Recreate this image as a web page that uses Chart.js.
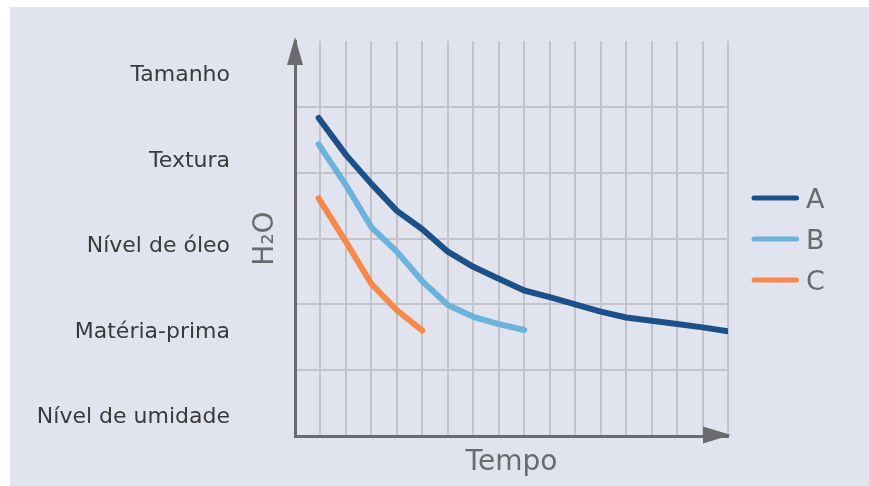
<!DOCTYPE html>
<html lang="pt">
<head>
<meta charset="utf-8">
<title>Tempo x H2O</title>
<script src="https://cdn.jsdelivr.net/npm/chart.js@4/dist/chart.umd.min.js"></script>
<style>
  html, body { margin: 0; padding: 0; background: #ffffff; }
  #fond { position: absolute; left: 10px; top: 7px; right: 0; bottom: 0; background: #e1e4ee; }
  #boite { position: absolute; left: 0; top: 0; width: 869px; height: 486px; }
</style>
</head>
<body>
<div id="fond"></div>
<div id="boite"><canvas id="grafico"></canvas></div>
<script>
// valeurs (axe x : pas de temps, axe y : niveau de H2O)
const tempo = [0.93, 2, 3, 4, 5, 6, 7, 8, 9, 10, 11, 12, 13, 14, 15, 16, 17];
const serieA = [4.83, 4.27, 3.83, 3.42, 3.14, 2.80, 2.57, 2.39, 2.21, 2.11, 2.00, 1.89, 1.80, 1.75, 1.70, 1.65, 1.59];
const serieB = [4.43, 3.81, 3.17, 2.80, 2.35, 1.99, 1.81, 1.70, 1.61];
const serieC = [3.61, 2.95, 2.31, 1.91, 1.60];
const nomesSeries = ['A', 'B', 'C'];
const niveis = ['Nível de umidade', 'Matéria-prima', 'Nível de óleo', 'Textura', 'Tamanho'];

const couleurs = ['#1b5089', '#6cb3dc', '#f6884a'];
const gris = '#6b6b6f';
const grille = '#c3c3c9';

Chart.defaults.font.family = '"DejaVu Sans", sans-serif';

function points(valeurs) {
    return valeurs.map((v, i) => ({ x: tempo[i], y: v }));
}

// flèches des axes + légende à droite
const decor = {
    id: 'decor',
    afterDraw(chart) {
        const ctx = chart.ctx;
        const a = chart.chartArea;
        ctx.save();
        ctx.fillStyle = gris;
        // flèche verticale
        ctx.beginPath();
        ctx.moveTo(a.left, a.top - 4);
        ctx.lineTo(a.left + 8, a.top + 24);
        ctx.lineTo(a.left - 8, a.top + 24);
        ctx.closePath();
        ctx.fill();
        // flèche horizontale
        ctx.beginPath();
        ctx.moveTo(a.right + 3, a.bottom - 1);
        ctx.lineTo(a.right - 25, a.bottom - 9.5);
        ctx.lineTo(a.right - 25, a.bottom + 7.5);
        ctx.closePath();
        ctx.fill();

        // légende
        ctx.lineCap = 'round';
        ctx.lineWidth = 5;
        ctx.font = '27px "DejaVu Sans"';
        ctx.textBaseline = 'alphabetic';
        ctx.textAlign = 'left';
        chart.data.datasets.forEach((ds, i) => {
            const y = 198 + i * 41;
            ctx.strokeStyle = ds.borderColor;
            ctx.beginPath();
            ctx.moveTo(754, y);
            ctx.lineTo(796.5, y);
            ctx.stroke();
            ctx.fillStyle = gris;
            ctx.fillText(ds.label, 806, y + 9.5);
        });
        ctx.restore();
    }
};

const ctx = document.getElementById('grafico').getContext('2d');
const grafico = new Chart(ctx, {
    type: 'line',
    data: {
        datasets: [serieA, serieB, serieC].map((s, i) => ({
            label: nomesSeries[i],
            data: points(s),
            borderColor: couleurs[i],
            backgroundColor: couleurs[i],
            borderWidth: 6,
            borderCapStyle: 'round',
            borderJoinStyle: 'round',
            pointRadius: 0,
            tension: 0,
            fill: false
        }))
    },
    options: {
        responsive: true,
        maintainAspectRatio: false,
        animation: false,
        layout: { padding: { left: 0, top: 41, right: 141, bottom: 0 } },
        plugins: {
            legend: { display: false },
            tooltip: { enabled: false }
        },
        scales: {
            x: {
                type: 'linear',
                min: 0,
                max: 17,
                ticks: { display: false, stepSize: 1 },
                grid: {
                    drawTicks: false,
                    lineWidth: 2,
                    color: c => c.tick.value === 0 ? 'rgba(0,0,0,0)' : grille
                },
                border: { display: true, color: gris, width: 3 },
                title: {
                    display: true,
                    text: 'Tempo',
                    color: gris,
                    font: { size: 28 },
                    padding: { top: 10, bottom: 6 }
                },
                afterFit: s => { s.height = 50; }
            },
            yl: {
                type: 'linear',
                position: 'left',
                weight: 10,
                min: 0,
                max: 6,
                grid: { display: false, drawTicks: false },
                border: { display: false },
                afterBuildTicks: s => {
                    s.ticks = niveis.map((n, i) => ({ value: 0.283 + i * 1.298 }));
                },
                ticks: {
                    padding: 7,
                    color: '#3a3a3c',
                    font: { size: 22 },
                    callback: (v, i) => niveis[i]
                },
                afterFit: s => { s.width = 237; }
            },
            y: {
                type: 'linear',
                position: 'left',
                weight: 0,
                min: 0,
                max: 6,
                ticks: { display: false, stepSize: 1 },
                grid: {
                    drawTicks: false,
                    lineWidth: 2,
                    color: c => (c.tick.value > 0 && c.tick.value < 6) ? grille : 'rgba(0,0,0,0)'
                },
                border: { display: true, color: gris, width: 3 },
                title: {
                    display: true,
                    text: 'H₂O',
                    color: gris,
                    font: { size: 28 },
                    padding: { top: 11.7, bottom: 12 }
                },
                afterFit: s => { s.width = 58; }
            }
        }
    },
    plugins: [decor]
});
</script>
</body>
</html>
